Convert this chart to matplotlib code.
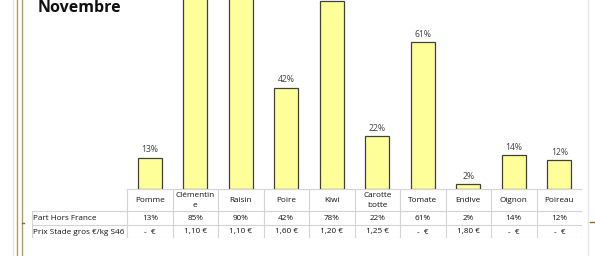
import matplotlib.pyplot as plt
from matplotlib.lines import Line2D

# Données
produits = ['Pomme', 'Clémentin\ne', 'Raisin', 'Poire', 'Kiwi', 'Carotte\nbotte',
            'Tomate', 'Endive', 'Oignon', 'Poireau']
part_hors_france = [13, 85, 90, 42, 78, 22, 61, 2, 14, 12]
prix_stade_gros = ['-  €', '1,10 €', '1,10 €', '1,60 €', '1,20 €', '1,25 €',
                   '-  €', '1,80 €', '-  €', '-  €']
lignes = ['Part Hors France', 'Prix Stade gros €/kg S46']

W, H = 595, 256
plt.rcParams['font.family'] = ['Open Sans', 'DejaVu Sans']
fig = plt.figure(figsize=(W / 100, H / 100), dpi=100)

# zone des barres (coordonnées pixels de la figure)
x0, x1 = 127, 582
base = 189
px_per_pct = 2.41
ax = fig.add_axes([x0 / W, (H - base) / H, (x1 - x0) / W, base / H])
n = len(produits)
xs = list(range(n))
ax.bar(xs, part_hors_france, width=0.53, color='#FFFF99', edgecolor='#404040', linewidth=0.9)
ymax = base / px_per_pct
for x, v in zip(xs, part_hors_france):
    # étiquettes hors cadre coupées comme dans l'original
    if v > ymax - 3:
        continue
    ax.annotate(f'{v}%', (x, v), xytext=(0, 2.5), textcoords='offset points',
                ha='center', va='bottom', fontsize=6.2, color='#404040')
ax.set_xlim(-0.5, n - 0.5)
ax.set_ylim(0, ymax)
ax.axis('off')

# tableau sous le graphique
lab_x = 32
col_w = (x1 - x0) / n
tx0 = -0.5 - (x0 - lab_x) / col_w
tab = fig.add_axes([lab_x / W, (H - 238) / H, (x1 - lab_x) / W, (238 - base) / H])
tab.set_xlim(tx0, n - 0.5)
tab.set_ylim(238, base)
tab.axis('off')
gc = '#d4d4d4'
rows_y = [base, 211, 225, 238]
# lignes horizontales
tab.plot([-0.5, n - 0.5], [base, base], color=gc, lw=0.8)
for y in rows_y[1:]:
    tab.plot([tx0, n - 0.5], [y, y], color=gc, lw=0.8)
# lignes verticales
for i in range(n + 1):
    tab.plot([i - 0.5, i - 0.5], [base, 238], color=gc, lw=0.8)
tab.plot([tx0, tx0], [211, 238], color=gc, lw=0.8)

fs = 5.9
for i, p in enumerate(produits):
    tab.text(i, (base + 211) / 2 + 0.5, p, ha='center', va='center', fontsize=fs,
             color='#111111', linespacing=1.65)
    tab.text(i, 218.5, f'{part_hors_france[i]}%', ha='center', va='center', fontsize=fs, color='#111111')
    tab.text(i, 232, prix_stade_gros[i], ha='center', va='center', fontsize=fs, color='#111111')
for y, lab in zip([218.5, 232], lignes):
    tab.text(tx0 + 0.02, y, lab, ha='left', va='center', fontsize=fs, color='#111111')

# titre
fig.text(38 / W, 1 - 12 / H, 'Novembre', fontsize=11.5, fontweight='bold',
         ha='left', va='baseline', color='#111111')

# bordures décoratives
def vline(x, c, lw):
    fig.add_artist(Line2D([x / W, x / W], [0, 1], color=c, lw=lw))

vline(12.5, '#e6e6e6', 1.0)
vline(16.5, '#b39b63', 1.0)
vline(22, '#b39b63', 1.0)
vline(587.5, '#e8e8e8', 1.0)
fig.add_artist(Line2D([22 / W, 24 / W], [1 - 223 / H, 1 - 223 / H], color='#8a6d2c', lw=1))
fig.add_artist(Line2D([590 / W, 1], [1 - 222 / H, 1 - 222 / H], color='#8a6d2c', lw=1))

fig.savefig('out.png', dpi=100, facecolor='white')
